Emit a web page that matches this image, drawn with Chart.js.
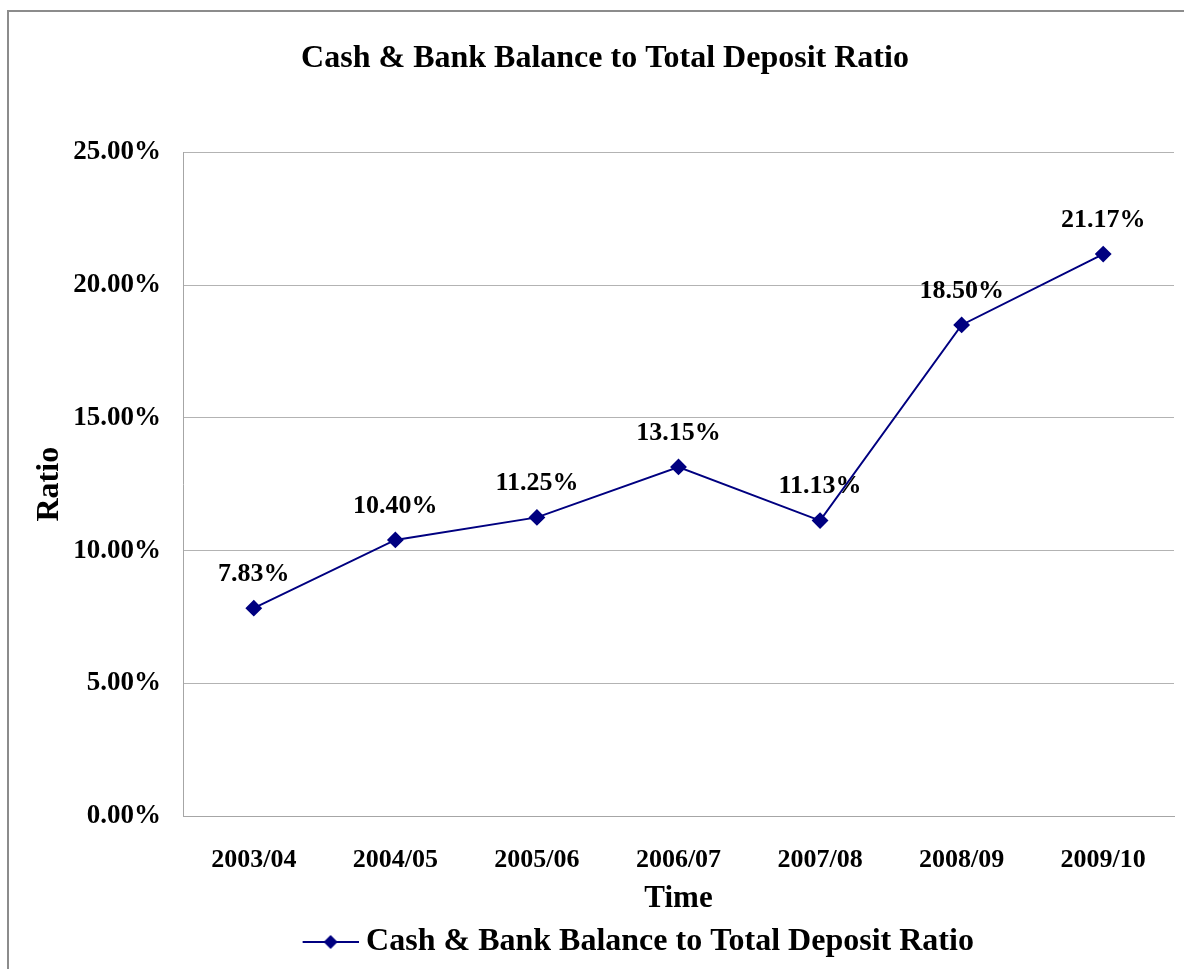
<!DOCTYPE html>
<html>
<head>
<meta charset="utf-8">
<script src="https://cdn.jsdelivr.net/npm/chart.js@4"></script>
<style>
    html, body { margin: 0; padding: 0; background: #fff; }
    #grafica { display: block; }
</style>
</head>
<body>
<canvas id="grafica" width="1184" height="969"></canvas>
<script>
const periodos = ["2003/04", "2004/05", "2005/06", "2006/07", "2007/08", "2008/09", "2009/10"];
const ratios = [7.83, 10.40, 11.25, 13.15, 11.13, 18.50, 21.17];
const ticksY = [0, 5, 10, 15, 20, 25];

const serie = "Cash & Bank Balance to Total Deposit Ratio";
const fuente = "'Liberation Serif', 'Times New Roman', serif";
const azul = "#000080";

// simbolo de la leyenda: linea con rombo (parte izquierda transparente)
function iconoLeyenda() {
    const c = document.createElement("canvas");
    c.width = 131;
    c.height = 16;
    const ctx = c.getContext("2d");
    ctx.strokeStyle = azul;
    ctx.lineWidth = 2;
    ctx.beginPath();
    ctx.moveTo(75, 8);
    ctx.lineTo(131, 8);
    ctx.stroke();
    ctx.fillStyle = azul;
    ctx.beginPath();
    ctx.moveTo(103, 1);
    ctx.lineTo(110, 8);
    ctx.lineTo(103, 15);
    ctx.lineTo(96, 8);
    ctx.closePath();
    ctx.fill();
    return c;
}

// marco gris del grafico original
const marco = {
    id: "marco",
    beforeDraw(chart) {
        const ctx = chart.ctx;
        ctx.save();
        ctx.strokeStyle = "#8c8c8c";
        ctx.lineWidth = 2;
        ctx.beginPath();
        ctx.moveTo(8, chart.height);
        ctx.lineTo(8, 11);
        ctx.lineTo(chart.width, 11);
        ctx.stroke();
        ctx.restore();
    }
};

// etiquetas de valor encima de cada punto
const etiquetas = {
    id: "etiquetas",
    afterDatasetsDraw(chart) {
        const ctx = chart.ctx;
        const meta = chart.getDatasetMeta(0);
        ctx.save();
        ctx.font = "bold 26px " + fuente;
        ctx.fillStyle = "#000";
        ctx.textAlign = "center";
        ctx.textBaseline = "middle";
        meta.data.forEach((p, i) => {
            ctx.fillText(ratios[i].toFixed(2) + "%", p.x, p.y - 34);
        });
        ctx.restore();
    }
};

const ctx = document.getElementById("grafica").getContext("2d");

new Chart(ctx, {
    type: "line",
    data: {
        labels: periodos,
        datasets: [{
            label: serie,
            data: ratios,
            borderColor: azul,
            backgroundColor: azul,
            borderWidth: 2,
            pointStyle: "rectRot",
            pointRadius: 7,
            pointBackgroundColor: azul,
            pointBorderColor: azul,
            tension: 0
        }]
    },
    options: {
        responsive: false,
        animation: false,
        layout: { padding: { top: 40, left: 36, right: 10, bottom: 1 } },
        plugins: {
            title: {
                display: true,
                text: serie,
                color: "#000",
                font: { family: fuente, size: 32, weight: "bold" },
                padding: { top: 0, bottom: 74 }
            },
            legend: {
                display: true,
                position: "bottom",
                labels: {
                    color: "#000",
                    font: { family: fuente, size: 32, weight: "bold" },
                    usePointStyle: true,
                    pointStyleWidth: 114,
                    padding: 8,
                    generateLabels: chart => [{
                        text: serie,
                        pointStyle: iconoLeyenda(),
                        fillStyle: azul,
                        strokeStyle: azul,
                        lineWidth: 0,
                        datasetIndex: 0
                    }]
                }
            },
            tooltip: { enabled: false }
        },
        scales: {
            x: {
                offset: true,
                afterFit: scale => { scale.height = 102; },
                grid: { display: false, drawTicks: false },
                border: { display: true, color: "#a6a6a6", width: 1 },
                ticks: {
                    color: "#000",
                    font: { family: fuente, size: 26, weight: "bold" },
                    padding: 29,
                    maxRotation: 0
                },
                title: {
                    display: true,
                    text: "Time",
                    color: "#000",
                    font: { family: fuente, size: 31, weight: "bold" },
                    padding: { top: -2, bottom: 0 }
                }
            },
            y: {
                min: 0,
                max: 25,
                afterBuildTicks: scale => {
                    scale.ticks = ticksY.map(v => ({ value: v }));
                },
                afterFit: scale => { scale.width = 147; },
                grid: { color: "#b3b3b3", lineWidth: 1, drawTicks: false },
                border: { display: true, color: "#a6a6a6", width: 1 },
                ticks: {
                    color: "#000",
                    font: { family: fuente, size: 27, weight: "bold" },
                    padding: 22,
                    callback: v => v.toFixed(2) + "%"
                },
                title: {
                    display: true,
                    text: "Ratio",
                    color: "#000",
                    font: { family: fuente, size: 32, weight: "bold" },
                    padding: { top: -5, bottom: 0 }
                }
            }
        }
    },
    plugins: [marco, etiquetas]
});
</script>
</body>
</html>
